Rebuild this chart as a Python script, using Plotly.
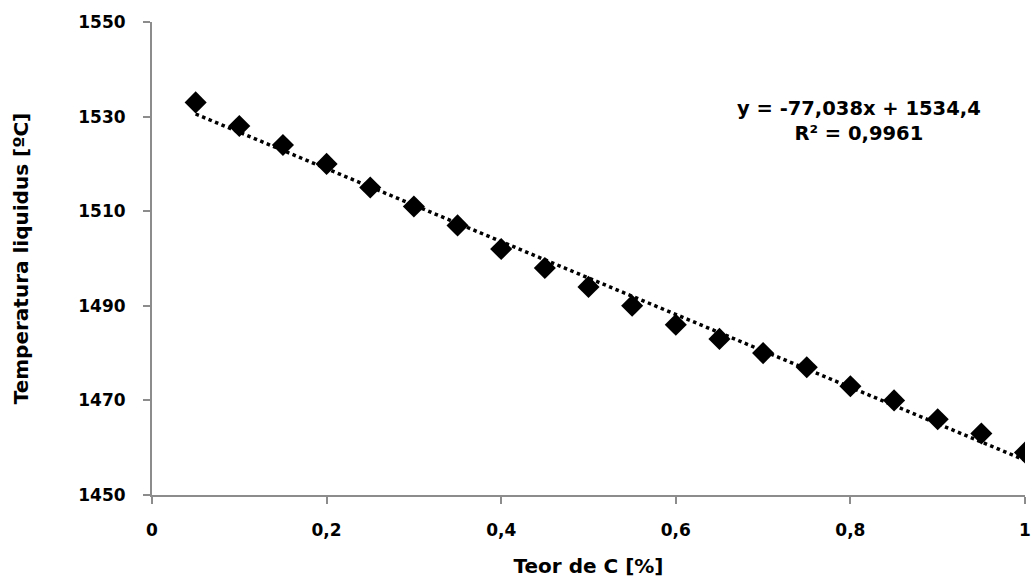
import plotly.graph_objects as go

teor_c = [0.05, 0.10, 0.15, 0.20, 0.25, 0.30, 0.35, 0.40, 0.45, 0.50,
          0.55, 0.60, 0.65, 0.70, 0.75, 0.80, 0.85, 0.90, 0.95, 1.00]
temperatura = [1533, 1528, 1524, 1520, 1515, 1511, 1507, 1502, 1498, 1494,
               1490, 1486, 1483, 1480, 1477, 1473, 1470, 1466, 1463, 1459]

slope = -77.038
intercept = 1534.4
equation_text = "<b>y = -77,038x + 1534,4<br>R² = 0,9961</b>"

trend_x = [teor_c[0], teor_c[-1]]
trend_y = [slope * v + intercept for v in trend_x]

font_family = "DejaVu Sans, sans-serif"

fig = go.Figure()
fig.add_trace(go.Scatter(x=trend_x, y=trend_y, mode="lines",
                         line=dict(color="black", width=3.5, dash="dot"),
                         showlegend=False, hoverinfo="skip"))
fig.add_trace(go.Scatter(x=teor_c, y=temperatura, mode="markers",
                         marker=dict(symbol="diamond", size=17, color="black"),
                         showlegend=False))

fig.add_annotation(x=0.81, y=1529, xref="x", yref="y", text=equation_text,
                   showarrow=False, align="center",
                   font=dict(family=font_family, size=19.5, color="black"))

fig.update_layout(
    width=1034, height=583,
    margin=dict(l=152, r=3, t=22, b=88),
    paper_bgcolor="white", plot_bgcolor="white",
    font=dict(family=font_family, color="black"),
    separators=",.",
)
fig.update_xaxes(range=[0, 1], dtick=0.2, tick0=0, showgrid=False, zeroline=False,
                 showline=True, linecolor="#8c8c8c", linewidth=2,
                 ticks="outside", ticklen=7, tickcolor="#8c8c8c", tickwidth=1.5,
                 tickfont=dict(family=font_family, size=17, color="black"),
                 ticklabelstandoff=12, ticklabeloverflow="allow",
                 title=dict(text="<b>Teor de C [%]</b>", standoff=20,
                            font=dict(family=font_family, size=20, color="black")),
                 tickprefix="<b>", ticksuffix="</b>")
fig.update_yaxes(range=[1450, 1550], dtick=20, tick0=1450, showgrid=False, zeroline=False,
                 showline=True, linecolor="#8c8c8c", linewidth=2,
                 ticks="outside", ticklen=7, tickcolor="#8c8c8c", tickwidth=1.5,
                 tickfont=dict(family=font_family, size=17, color="black"),
                 ticklabelstandoff=14, ticklabeloverflow="allow",
                 title=dict(text="<b>Temperatura liquidus [ºC]</b>", standoff=44,
                            font=dict(family=font_family, size=20, color="black")),
                 tickprefix="<b>", ticksuffix="</b>")

fig.write_html("out.html")
